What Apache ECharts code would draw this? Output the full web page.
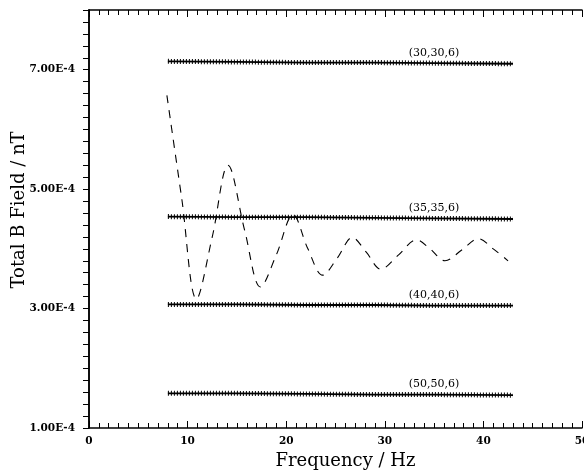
<!DOCTYPE html>
<html>
<head>
<meta charset="utf-8">
<script src="https://cdn.jsdelivr.net/npm/echarts@6/dist/echarts.min.js"></script>
<style>
html, body { margin: 0; padding: 0; background: #fff; }
#chart { width: 584px; height: 470px; }
</style>
</head>
<body>
<div id="chart"></div>
<script>
// flat reference runs, read at a few frequencies (Hz)
var flatFreqs = [8, 15, 22, 29, 35, 43];
var runNames = ['(30,30,6)', '(35,35,6)', '(40,40,6)', '(50,50,6)'];
var run30 = [7.14e-4, 7.13e-4, 7.12e-4, 7.12e-4, 7.11e-4, 7.10e-4];
var run35 = [4.54e-4, 4.53e-4, 4.53e-4, 4.52e-4, 4.51e-4, 4.50e-4];
var run40 = [3.07e-4, 3.07e-4, 3.06e-4, 3.06e-4, 3.05e-4, 3.05e-4];
var run50 = [1.58e-4, 1.58e-4, 1.57e-4, 1.56e-4, 1.56e-4, 1.55e-4];
var labelFreq = 35;

// dashed oscillating curve
var curveFreqs = [7.9, 9.4, 10.9, 12.5, 14.1, 15.8, 17.4, 19.0, 20.7, 22.2, 23.7, 25.2,
                  26.7, 28.1, 29.6, 31.4, 33.2, 34.6, 36.1, 37.8, 39.5, 41.0, 42.5];
var curveField = [6.57e-4, 4.85e-4, 3.16e-4, 4.2e-4, 5.40e-4, 4.3e-4, 3.36e-4, 3.9e-4, 4.57e-4,
                  4.0e-4, 3.56e-4, 3.85e-4, 4.19e-4, 3.95e-4, 3.66e-4, 3.9e-4, 4.15e-4, 4.0e-4,
                  3.80e-4, 3.98e-4, 4.17e-4, 4.0e-4, 3.80e-4];

var xTicks = [0, 10, 20, 30, 40, 50];
var yTickLabels = [1e-4, 3e-4, 5e-4, 7e-4];

var chart = echarts.init(document.getElementById('chart'));
var serif = 'DejaVu Serif';

var runs = [run30, run35, run40, run50];
var series = [];
runs.forEach(function (vals, i) {
    var pts = flatFreqs.map(function (f, j) {
        if (f === labelFreq) {
            return {
                value: [f, vals[j]],
                label: {
                    show: true, position: 'top', distance: 4,
                    formatter: runNames[i], color: '#000',
                    fontFamily: serif, fontSize: 11
                }
            };
        }
        return [f, vals[j]];
    });
    // solid line
    series.push({
        type: 'line', data: pts, symbol: 'circle', symbolSize: 1,
        itemStyle: { color: 'rgba(0,0,0,0)' },
        lineStyle: { color: '#000', width: 1.8 }, silent: true, z: 3
    });
    // crossing marks along the line
    series.push({
        type: 'line', data: flatFreqs.map(function (f, j) { return [f, vals[j]]; }),
        symbol: 'none',
        lineStyle: { color: '#000', width: 5, type: [1, 2] }, silent: true, z: 2
    });
});

series.push({
    type: 'line',
    data: curveFreqs.map(function (f, j) { return [f, curveField[j]]; }),
    symbol: 'none', smooth: 0.35,
    lineStyle: { color: '#000', width: 1.1, type: [8, 7] }, silent: true, z: 1
});

function yLabel(v) {
    for (var i = 0; i < yTickLabels.length; i++) {
        if (Math.abs(v - yTickLabels[i]) < 1e-6) return v.toExponential(2).toUpperCase();
    }
    return '';
}

var axisLine = { show: true, lineStyle: { color: '#000', width: 1.5 } };

var option = {
    animation: false,
    backgroundColor: '#fff',
    grid: { left: 89, right: 2, top: 10, bottom: 42, outerBoundsMode: 'none', containLabel: false },
    xAxis: [{
        type: 'value', min: xTicks[0], max: xTicks[xTicks.length - 1], interval: 10,
        position: 'bottom',
        name: 'Frequency / Hz', nameLocation: 'middle', nameGap: 21,
        nameTextStyle: { fontFamily: serif, fontSize: 18, color: '#000', padding: [0, 0, 0, 20] },
        axisLine: axisLine,
        axisTick: { show: true, inside: true, length: 7, lineStyle: { color: '#000' } },
        minorTick: { show: true, splitNumber: 10, length: 5, lineStyle: { color: '#000' } },
        axisLabel: { fontFamily: serif, fontWeight: 'bold', fontSize: 10.5, color: '#000', margin: 8 },
        splitLine: { show: false }
    }, {
        type: 'value', min: 0, max: 50, interval: 10, position: 'top',
        axisLine: axisLine,
        axisTick: { show: true, inside: true, length: 7, lineStyle: { color: '#000' } },
        minorTick: { show: true, splitNumber: 10, length: 5, lineStyle: { color: '#000' } },
        axisLabel: { show: false },
        splitLine: { show: false }
    }],
    yAxis: [{
        type: 'value', min: 1e-4, max: 8e-4, interval: 2e-5,
        position: 'left',
        name: 'Total B Field / nT', nameLocation: 'middle', nameGap: 61, nameRotate: 90,
        nameMoveOverlap: false,
        nameTextStyle: { fontFamily: serif, fontSize: 18, color: '#000', padding: [0, 0, 0, 18] },
        axisLine: axisLine,
        axisTick: { show: true, inside: false, length: 5, lineStyle: { color: '#000' } },
        axisLabel: { fontFamily: serif, fontWeight: 'bold', fontSize: 10.5, color: '#000', margin: 14, formatter: yLabel },
        splitLine: { show: false }
    }, {
        type: 'value', min: 1e-4, max: 8e-4, interval: 2e-5, position: 'right',
        axisLine: axisLine,
        axisTick: { show: true, inside: true, length: 6, lineStyle: { color: '#000' } },
        axisLabel: { show: false },
        splitLine: { show: false }
    }],
    series: series
};

chart.setOption(option);
</script>
</body>
</html>
